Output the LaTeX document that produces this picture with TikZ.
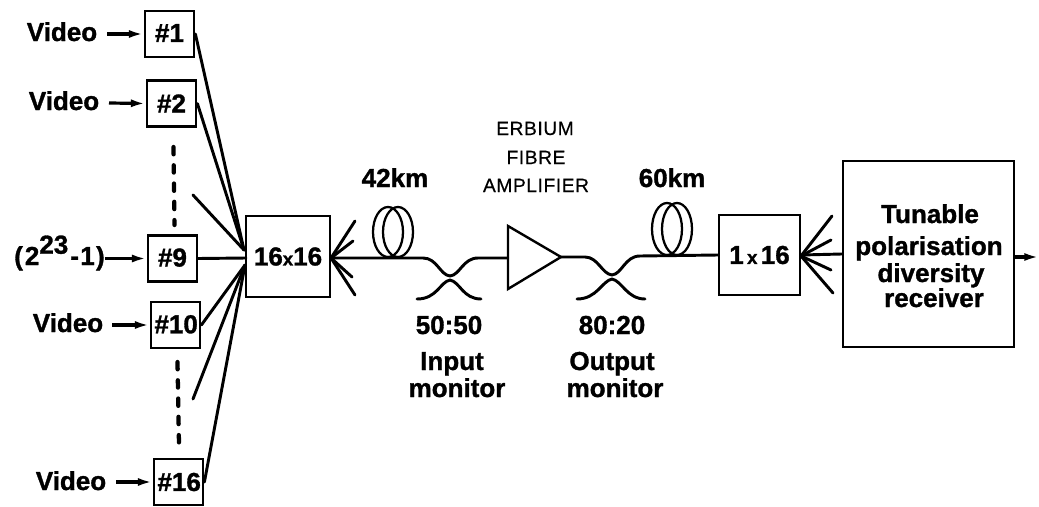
\documentclass[tikz,border=0pt]{standalone}
\usepackage{fontspec}
\setmainfont[BoldFeatures={FakeBold=1.2}]{Liberation Sans}
\usetikzlibrary{arrows.meta}
\newfontfamily\thinlabel[LetterSpace=3,FakeBold=0.4]{Liberation Sans}
\tikzset{
  box/.style={draw=black,line width=2.1pt,fill=white,inner sep=0pt,font=\fontsize{19.5pt}{20pt}\selectfont\bfseries},
  smallbox/.style={box,minimum width=49*0.75pt,minimum height=46*0.75pt},
  lab/.style={anchor=base,inner sep=0pt,font=\fontsize{19.5pt}{20pt}\selectfont\bfseries},
  caps/.style={anchor=base,inner sep=0pt,font=\fontsize{14.4pt}{15pt}\selectfont\thinlabel},
  fan/.style={line width=2.2pt,line cap=round},
  fibre/.style={line width=2.2pt,line cap=round,line join=round},
  coil/.style={line width=1.7pt},
  feed/.style={line width=2.4pt,-{Latex[length=11pt,width=6pt]}},
  vdots/.style={line width=3.2pt,dash pattern=on 5.5pt off 8.2pt,line cap=round}
}
\begin{document}
\begin{tikzpicture}[x=0.75pt,y=-0.75pt]
\useasboundingbox (0,0) rectangle (1039,507);
% fan-in hubs and free ends
\coordinate (hubA) at (244,250);
\coordinate (hubB) at (246,258);
\coordinate (hubC) at (245,265);
\coordinate (hubR) at (331,258);
\coordinate (hubS) at (801,256);
\coordinate (freeA) at (193,195);
\coordinate (freeB) at (193,399);
\coordinate (ra) at (355,221);
\coordinate (rb) at (353,241);
\coordinate (rc) at (352,277);
\coordinate (rd) at (355,295);
\coordinate (sa) at (832,216);
\coordinate (sb) at (831,240);
\coordinate (sc) at (831,270);
\coordinate (sd) at (833,293);
\coordinate (outEnd) at (1039,257);
\coordinate (dotA) at (173.5,147);
\coordinate (dotB) at (174.5,225);
\coordinate (dotC) at (177.5,362);
\coordinate (dotD) at (179,445);
% boxes
\node[smallbox] (b1) at (169.5,34) {\raisebox{1.5pt}{\#1}};
\node[smallbox] (b2) at (171.5,103.5) {\#2};
\node[smallbox] (b9) at (172.5,258.5) {\raisebox{1.5pt}{\#9}};
\node[smallbox] (b10) at (175.5,325) {\hspace*{1pt}\raisebox{1.2pt}{\#10}};
\node[smallbox] (b16) at (178.5,482) {\hspace*{1pt}\#16};
\node[box,minimum width=84*0.75pt,minimum height=81*0.75pt] (mux) at (288,256.5) {16{\fontsize{14pt}{15pt}\selectfont x}16};
\node[box,minimum width=81*0.75pt,minimum height=80*0.75pt] (split) at (759.5,255) {1\hspace{2.5pt}{\fontsize{14pt}{15pt}\selectfont x}\hspace{2.5pt}16};
\node[box,minimum width=171*0.75pt,minimum height=186*0.75pt] (rx) at (928.5,254) {};
\draw[fill=white,line width=1.8pt,line join=miter] (508,226) -- (561,257) coordinate (ampO) -- (508,289) -- cycle;
\node[inner sep=0pt,minimum size=0pt] (amp) at (508,258) {};
% labels
\node[lab] (v1) at (62,41) {Video};
\node[lab] (v2) at (64,110) {Video};
\node[lab] (prbs) at (59.5,265) {(\hspace{1.5pt}2\raisebox{8.5pt}{23}\hspace{1.5pt}-\hspace{1pt}1\hspace{1pt})};
\node[lab] (v10) at (68,332) {Video};
\node[lab] (v16) at (71,490) {Video};
\node[lab] (l42) at (395,187) {42km};
\node[lab] (l60) at (672,187) {60km};
\node[caps] (er) at (535,135) {ERBIUM};
\node[caps] (fi) at (536,164) {FIBRE};
\node[caps] (am) at (536,192) {AMPLIFIER};
\node[lab] (r50) at (449,334) {50:50};
\node[lab] (r80) at (612,334) {80:20};
\node[lab] (inp) at (452,370) {Input};
\node[lab] (mon1) at (457,397) {monitor};
\node[lab] (outp) at (612,370) {Output};
\node[lab] (mon2) at (615,397) {monitor};
\node[lab] (t1) at (930,223) {Tunable};
\node[lab] (t2) at (929,255) {polarisation};
\node[lab] (t3) at (931,282) {diversity};
\node[lab] (t4) at (934,307) {receiver};
% inputs
\coordinate (s1) at (107,34);
\coordinate (s2) at (109,103);
\coordinate (s10) at (112,325);
\coordinate (s16) at (116,482);
\draw[feed] (s1) -- (b1.west);
\draw[feed] (s2) -- (b2.west);
\draw[feed] (prbs.east |- b9.west) -- (b9.west);
\draw[feed] (s10) -- (b10.west);
\draw[feed] (s16) -- (b16.west);
% fan-in
\draw[fan] (b1.east) -- (hubA);
\draw[fan] (b2.east) -- (hubA);
\draw[fan] (freeA) -- (hubA);
\draw[fan] (b9.east) -- (hubB);
\draw[fan] (b10.east) -- (hubC);
\draw[fan] (freeB) -- (hubC);
\draw[fan] (b16.east) -- (hubC);
% dashed continuation
\draw[vdots] (dotA) -- (dotB);
\draw[vdots] (dotC) -- (dotD);
% right fan of the star coupler
\foreach \e in {ra,rb,rc,rd} \draw[fan] (hubR) -- (\e);
% fibre coil 42 km
\draw[coil] (388,232) ellipse [x radius=15,y radius=25];
\draw[coil] (398,232) ellipse [x radius=15,y radius=25];
% fibre coil 60 km
\draw[coil] (667,229) ellipse [x radius=15,y radius=26];
\draw[coil] (677,229) ellipse [x radius=15,y radius=26];
% fibres and couplers
\draw[fibre] (hubR) -- (423,258) .. controls (437,258) and (440,275) .. (450,276)
   .. controls (460,275) and (463,258) .. (478,258) -- (amp);
\draw[fibre] (417,299) .. controls (437,299) and (440,282) .. (450,280)
   .. controls (460,282) and (463,299) .. (481,299);
\draw[fibre] (ampO) -- (585,257) .. controls (598,257) and (602,274) .. (612,275)
   .. controls (622,274) and (625,256) .. (640,256) -- (split.west);
\draw[fibre] (577,299) .. controls (597,299) and (602,281) .. (612,279)
   .. controls (622,281) and (627,299) .. (645,299);
% right part
\draw[fibre] (split.east) -- (rx.west);
\foreach \e in {sa,sb,sc,sd} \draw[fan] (hubS) -- (\e);
\draw[feed] (rx.east |- outEnd) -- (outEnd);
\end{tikzpicture}
\end{document}
